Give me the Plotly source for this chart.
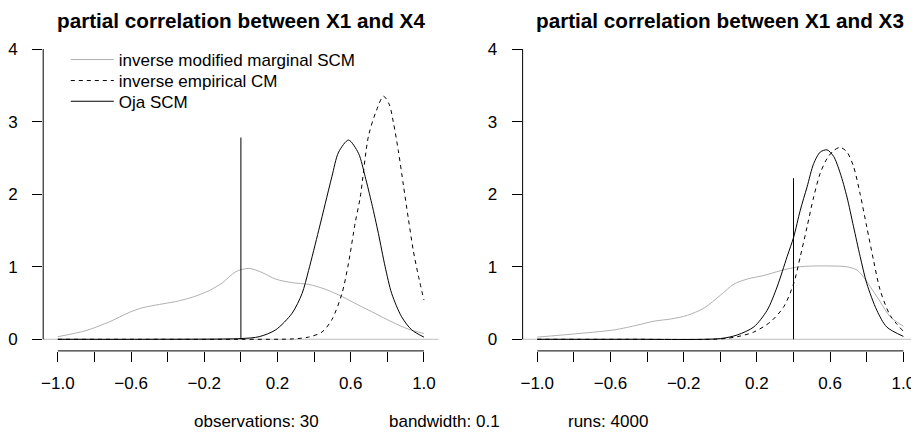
import plotly.graph_objects as go

# ---- data ----
titles = ["partial correlation between X1 and X4", "partial correlation between X1 and X3"]
series_names = ["inverse modified marginal SCM", "inverse empirical CM", "Oja SCM"]

# panel 1 (X1, X4)
p1_marg_x = [-1.0, -0.846, -0.719, -0.61, -0.537, -0.446, -0.356, -0.265, -0.174, -0.1, -0.029, 0.044,
             0.116, 0.189, 0.28, 0.37, 0.461, 0.552, 0.643, 0.733, 0.824, 0.915, 1.0]
p1_marg_y = [0.036, 0.12, 0.24, 0.37, 0.435, 0.48, 0.52, 0.58, 0.67, 0.78, 0.93, 0.977,
             0.92, 0.83, 0.78, 0.757, 0.69, 0.59, 0.47, 0.357, 0.24, 0.14, 0.08]
p1_emp_x = [-1.0, -0.5, 0.0, 0.28, 0.37, 0.443, 0.497, 0.552, 0.588, 0.624, 0.652, 0.697, 0.74,
            0.779, 0.81, 0.833, 0.86, 0.888, 0.915, 0.942, 0.97, 1.0]
p1_emp_y = [0.0, 0.0, 0.0, 0.005, 0.03, 0.10, 0.27, 0.63, 1.05, 1.6, 1.96, 2.8, 3.15,
            3.35, 3.24, 2.99, 2.6, 2.12, 1.66, 1.22, 0.87, 0.54]
p1_oja_x = [-1.0, -0.5, 0.0, 0.1, 0.19, 0.28, 0.334, 0.37, 0.425, 0.461, 0.497, 0.534, 0.588,
            0.643, 0.679, 0.715, 0.751, 0.788, 0.824, 0.878, 0.933, 1.0]
p1_oja_y = [0.0, 0.0, 0.01, 0.036, 0.13, 0.36, 0.63, 0.95, 1.5, 1.87, 2.24, 2.58, 2.745,
            2.56, 2.24, 1.87, 1.46, 1.0, 0.63, 0.31, 0.13, 0.03]

# panel 2 (X1, X3)
p2_marg_x = [-1.0, -0.815, -0.579, -0.452, -0.361, -0.27, -0.18, -0.089, 0.002, 0.074, 0.147, 0.238,
             0.329, 0.419, 0.51, 0.6, 0.69, 0.746, 0.782, 0.819, 0.873, 0.928, 1.0]
p2_marg_y = [0.03, 0.07, 0.13, 0.196, 0.25, 0.28, 0.33, 0.43, 0.61, 0.76, 0.83, 0.88,
             0.945, 0.995, 1.01, 1.01, 1.0, 0.955, 0.86, 0.725, 0.52, 0.31, 0.18]
p2_emp_x = [-1.0, -0.5, 0.0, 0.093, 0.183, 0.274, 0.347, 0.401, 0.437, 0.474, 0.51, 0.546, 0.583,
            0.619, 0.655, 0.692, 0.728, 0.764, 0.8, 0.837, 0.873, 0.928, 1.0]
p2_emp_y = [0.0, 0.0, 0.005, 0.036, 0.10, 0.24, 0.45, 0.77, 1.14, 1.55, 1.96, 2.29, 2.49,
            2.6, 2.645, 2.58, 2.38, 2.0, 1.55, 1.09, 0.68, 0.33, 0.11]
p2_oja_x = [-1.0, -0.5, 0.0, 0.093, 0.183, 0.256, 0.31, 0.365, 0.401, 0.437, 0.474, 0.51, 0.546,
            0.583, 0.619, 0.655, 0.692, 0.728, 0.764, 0.8, 0.855, 0.909, 1.0]
p2_oja_y = [0.0, 0.0, 0.01, 0.06, 0.17, 0.40, 0.72, 1.14, 1.41, 1.78, 2.1, 2.42, 2.58,
            2.61, 2.52, 2.29, 1.96, 1.55, 1.14, 0.77, 0.40, 0.17, 0.04]

# true partial correlations and the heights of their marker segments
true_value = [0.0, 0.4]
true_seg_top = [2.78, 2.22]

x_tick_vals = [-1.0, -0.8, -0.6, -0.4, -0.2, 0.0, 0.2, 0.4, 0.6, 0.8, 1.0]
x_tick_text = ["\u22121.0", "", "\u22120.6", "", "\u22120.2", "", "0.2", "", "0.6", "", "1.0"]
y_tick_vals = [0, 1, 2, 3, 4]
y_tick_text = ["0", "1", "2", "3", "4"]

footer = ["observations: 30", "bandwidth: 0.1", "runs: 4000"]

# ---- styling / geometry ----
FONT = "Liberation Sans, Arial, Helvetica, sans-serif"
WIN_W, WIN_H = 919, 437
OFF = 8  # default page body margin
W, H = WIN_W - OFF, WIN_H - OFF
GREY = "#b0b0b0"
styles = [dict(color=GREY, width=1), dict(color="black", width=1, dash="4px,4px"), dict(color="black", width=1)]


def px_x(p):
    return (p - OFF) / W


def px_y(p):
    return 1 - (p - OFF) / H


panels = [
    [(p1_marg_x, p1_marg_y), (p1_emp_x, p1_emp_y), (p1_oja_x, p1_oja_y)],
    [(p2_marg_x, p2_marg_y), (p2_emp_x, p2_emp_y), (p2_oja_x, p2_oja_y)],
]
legend_ids = ["legend", "legend2", "legend3"]
legend_row_y = [42, 63, 83.7]

fig = go.Figure()
for pi, panel in enumerate(panels):
    xa = "x" if pi == 0 else "x2"
    ya = "y" if pi == 0 else "y2"
    for si, (xs, ys) in enumerate(panel):
        fig.add_trace(go.Scatter(
            x=xs, y=ys, mode="lines", name=series_names[si],
            line=dict(shape="spline", smoothing=0.8, **styles[si]),
            showlegend=(pi == 0), legend=legend_ids[si],
            xaxis=xa, yaxis=ya, hoverinfo="skip"))
    fig.add_trace(go.Scatter(
        x=[true_value[pi], true_value[pi]], y=[0, true_seg_top[pi]], mode="lines",
        line=dict(color="black", width=1), showlegend=False, xaxis=xa, yaxis=ya, hoverinfo="skip"))

xdom = [[px_x(40.3), px_x(437.0)], [px_x(521.3), px_x(918.0)]]
ydom = [px_y(350.9), px_y(37.4)]

axis_common = dict(showgrid=False, zeroline=False, showline=False, ticks="outside", ticklen=10,
                   tickwidth=1, tickcolor="black", tickfont=dict(family=FONT, size=17, color="black"))

for pi in range(2):
    sfx = "" if pi == 0 else "2"
    fig.layout["xaxis" + sfx] = dict(domain=xdom[pi], range=[-1.08, 1.08], anchor="y" + sfx,
                                     tickmode="array", tickvals=x_tick_vals, ticktext=x_tick_text,
                                     ticklabelstandoff=7, **axis_common)
    fig.layout["yaxis" + sfx] = dict(domain=ydom, range=[-0.16, 4.16], anchor="x" + sfx,
                                     tickmode="array", tickvals=y_tick_vals, ticktext=y_tick_text,
                                     ticklabelstandoff=11, **axis_common)
    xr = "x" + sfx
    yr = "y" + sfx
    fig.add_shape(type="line", xref=xr + " domain", yref=yr, x0=0, x1=1, y0=0, y1=0,
                  line=dict(color="#bebebe", width=1), layer="below")
    fig.add_shape(type="line", xref=xr, yref=yr + " domain", x0=x_tick_vals[0], x1=x_tick_vals[-1],
                  y0=0, y1=0, line=dict(color="black", width=1))
    fig.add_shape(type="line", xref=xr + " domain", yref=yr, x0=0, x1=0,
                  y0=y_tick_vals[0], y1=y_tick_vals[-1], line=dict(color="black", width=1))
    fig.add_annotation(text="<b>" + titles[pi] + "</b>", xref=xr + " domain", yref="paper",
                       x=0.5, y=px_y(21), xanchor="center", yanchor="middle", showarrow=False,
                       font=dict(family=FONT, size=20.7, color="black"))

footer_x = [254, 442.5, 607]
for txt, fx in zip(footer, footer_x):
    fig.add_annotation(text=txt, xref="paper", yref="paper", x=px_x(fx), y=px_y(421),
                       xanchor="center", yanchor="middle", showarrow=False,
                       font=dict(family=FONT, size=17, color="black"))

legend_common = dict(xanchor="left", yanchor="top", bgcolor="rgba(0,0,0,0)",
                     font=dict(family=FONT, size=17, color="black"), itemwidth=43)
layout_legends = {}
for lid, ly in zip(legend_ids, legend_row_y):
    layout_legends[lid] = dict(x=px_x(63), y=px_y(ly), **legend_common)

fig.update_layout(
    width=W, height=H, margin=dict(l=0, r=0, t=0, b=0),
    paper_bgcolor="white", plot_bgcolor="white",
    font=dict(family=FONT, size=17, color="black"),
    **layout_legends,
)

fig.write_html("out.html")
